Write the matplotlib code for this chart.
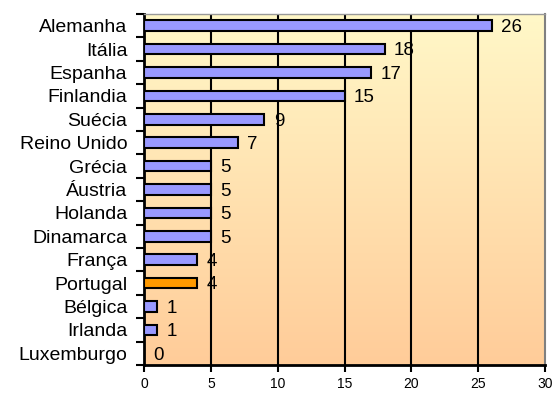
import matplotlib
matplotlib.use("Agg")
import matplotlib.pyplot as plt
import numpy as np
from matplotlib.colors import LinearSegmentedColormap

countries = ["Alemanha", "Itália", "Espanha", "Finlandia", "Suécia", "Reino Unido",
             "Grécia", "Áustria", "Holanda", "Dinamarca", "França", "Portugal",
             "Bélgica", "Irlanda", "Luxemburgo"]
values = [26, 18, 17, 15, 9, 7, 5, 5, 5, 5, 4, 4, 1, 1, 0]
highlight = "Portugal"
xticks = [0, 5, 10, 15, 20, 25, 30]

plt.rcParams['font.family'] = ['Liberation Sans', 'DejaVu Sans']

fig = plt.figure(figsize=(5.53, 3.94), dpi=100)
ax = fig.add_axes([144/553, 1-365/394, 401/553, 351/394])

n = len(countries)
ypos = np.arange(n)

# gradient background
cmap = LinearSegmentedColormap.from_list("bg", ["#FFF8C8", "#FFCC99"])
grad = np.linspace(0, 1, 256).reshape(-1, 1)
ax.imshow(grad, extent=[0, 30, n - 0.5, -0.5], aspect='auto', cmap=cmap, zorder=0)

colors = ["#FF9900" if c == highlight else "#9999FF" for c in countries]
ax.barh(ypos, values, height=0.45, color=colors, edgecolor='black', linewidth=1.5, zorder=3)

for y, v in zip(ypos, values):
    ax.text(v + 0.7, y + 0.08, str(v), va='center', ha='left', fontsize=13.5, zorder=4)

ax.set_xlim(0, 30)
ax.set_ylim(n - 0.5, -0.5)
ax.set_xticks(xticks)
ax.set_xticklabels([str(t) for t in xticks], fontsize=10)
ax.tick_params(axis='x', direction='out', length=5, width=1.5, pad=4)
ax.set_yticks(ypos)
ax.set_yticklabels(countries, fontsize=14)
ax.set_yticks(np.arange(-0.5, n, 1), minor=True)
ax.tick_params(axis='y', which='major', length=0, pad=12)
ax.tick_params(axis='y', which='minor', direction='out', length=6, width=1.5)

for t in xticks[1:-1]:
    ax.axvline(t, color='black', linewidth=1.5, zorder=2)

ax.spines['left'].set_linewidth(2)
ax.spines['bottom'].set_linewidth(2)
ax.spines['top'].set_color('#999999')
ax.spines['top'].set_linewidth(1)
ax.spines['right'].set_color('#808080')
ax.spines['right'].set_linewidth(1.5)

fig.savefig("out.png", dpi=100)
